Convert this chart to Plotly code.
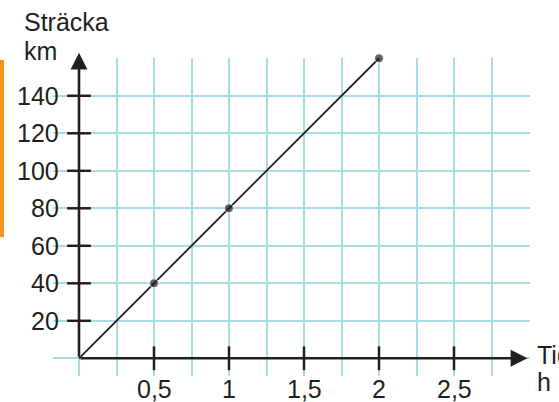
import plotly.graph_objects as go

# ---- data ----
time_h = [0, 0.5, 1, 2]
distance_km = [0, 40, 80, 160]
marker_sizes = [0, 9, 9, 9]

x_tick_vals = [0.5, 1, 1.5, 2, 2.5]
x_tick_text = ["0,5", "1", "1,5", "2", "2,5"]
y_tick_vals = [20, 40, 60, 80, 100, 120, 140]
y_tick_text = ["20", "40", "60", "80", "100", "120", "140"]

x_title = ["Tid", "h"]
y_title = ["Sträcka", "km"]

# ---- style ----
W, H = 559, 402
ML, MR, MT, MB = 53, 29, 58, 26
PW, PH = W - ML - MR, H - MT - MB
INK = "#231f20"
GRID = "#a9dde6"
FONT = "Liberation Sans, Arial, sans-serif"
FS = 25


def px_x(px):
    return (px - ML) / PW


def px_y(py):
    return (H - MB - py) / PH


fig = go.Figure()

# data line + points
fig.add_trace(go.Scatter(
    x=time_h, y=distance_km, mode="lines+markers",
    line=dict(color=INK, width=1.8),
    marker=dict(color=INK, size=marker_sizes),
    cliponaxis=False,
    hoverinfo="skip", showlegend=False,
))

# axis tick marks
fig.add_trace(go.Scatter(
    x=[0] * len(y_tick_vals), y=y_tick_vals, mode="markers",
    marker=dict(symbol="line-ew", size=17, line=dict(color=INK, width=2.5)),
    cliponaxis=False, hoverinfo="skip", showlegend=False,
))
fig.add_trace(go.Scatter(
    x=x_tick_vals, y=[0] * len(x_tick_vals), mode="markers",
    marker=dict(symbol="line-ns", size=17, line=dict(color=INK, width=2.5)),
    cliponaxis=False, hoverinfo="skip", showlegend=False,
))

annotations = []
# axis arrows
annotations.append(dict(x=2.99, y=0, ax=0, ay=0, xref="x", yref="y", axref="x", ayref="y",
                        text="", showarrow=True, arrowhead=2, arrowsize=1.3, arrowwidth=2.6,
                        arrowcolor=INK, standoff=0))
annotations.append(dict(x=0, y=163, ax=0, ay=0, xref="x", yref="y", axref="x", ayref="y",
                        text="", showarrow=True, arrowhead=2, arrowsize=1.3, arrowwidth=2.6,
                        arrowcolor=INK, standoff=0))

# tick labels
for v, t in zip(y_tick_vals, y_tick_text):
    annotations.append(dict(x=px_x(61), y=v, xref="paper", yref="y", text=t,
                            showarrow=False, xanchor="right", yanchor="middle",
                            font=dict(family=FONT, size=FS, color=INK)))
for v, t in zip(x_tick_vals, x_tick_text):
    annotations.append(dict(x=v, y=px_y(389), xref="x", yref="paper", text=t,
                            showarrow=False, xanchor="center", yanchor="middle",
                            font=dict(family=FONT, size=FS, color=INK)))

# axis titles
annotations.append(dict(x=px_x(22), y=px_y(22), xref="paper", yref="paper", text=y_title[0],
                        showarrow=False, xanchor="left", yanchor="middle",
                        font=dict(family=FONT, size=FS, color=INK)))
annotations.append(dict(x=px_x(22), y=px_y(51), xref="paper", yref="paper", text=y_title[1],
                        showarrow=False, xanchor="left", yanchor="middle",
                        font=dict(family=FONT, size=FS, color=INK)))
annotations.append(dict(x=px_x(535), y=px_y(355), xref="paper", yref="paper", text=x_title[0],
                        showarrow=False, xanchor="left", yanchor="middle",
                        font=dict(family=FONT, size=FS, color=INK)))
annotations.append(dict(x=px_x(535), y=px_y(382), xref="paper", yref="paper", text=x_title[1],
                        showarrow=False, xanchor="left", yanchor="middle",
                        font=dict(family=FONT, size=FS, color=INK)))

shapes = [dict(type="rect", xref="paper", yref="paper",
               x0=px_x(0), x1=px_x(4), y0=px_y(60), y1=px_y(237),
               fillcolor="#f7941d", line=dict(width=0), layer="above")]

fig.update_layout(
    width=W, height=H,
    margin=dict(l=ML, r=MR, t=MT, b=MB, autoexpand=False),
    paper_bgcolor="white", plot_bgcolor="white",
    annotations=annotations, shapes=shapes,
    xaxis=dict(range=[-26 / 150, 3 + 1 / 150], showticklabels=False, ticks="",
               tickvals=[0, 3], showgrid=True, gridcolor=GRID, gridwidth=2,
               minor=dict(tick0=0, dtick=0.25, showgrid=True, gridcolor=GRID, gridwidth=2),
               zeroline=False, showline=False, fixedrange=True),
    yaxis=dict(range=[-17.7 / 1.875, 160 + 0.3 / 1.875], showticklabels=False, ticks="",
               tick0=0, dtick=20, showgrid=True, gridcolor=GRID, gridwidth=2,
               zeroline=False, showline=False, fixedrange=True),
)

fig.write_html(
    "out.html",
    config={"displayModeBar": False},
    post_script="document.body.style.margin='0';document.body.style.overflow='hidden';",
)
